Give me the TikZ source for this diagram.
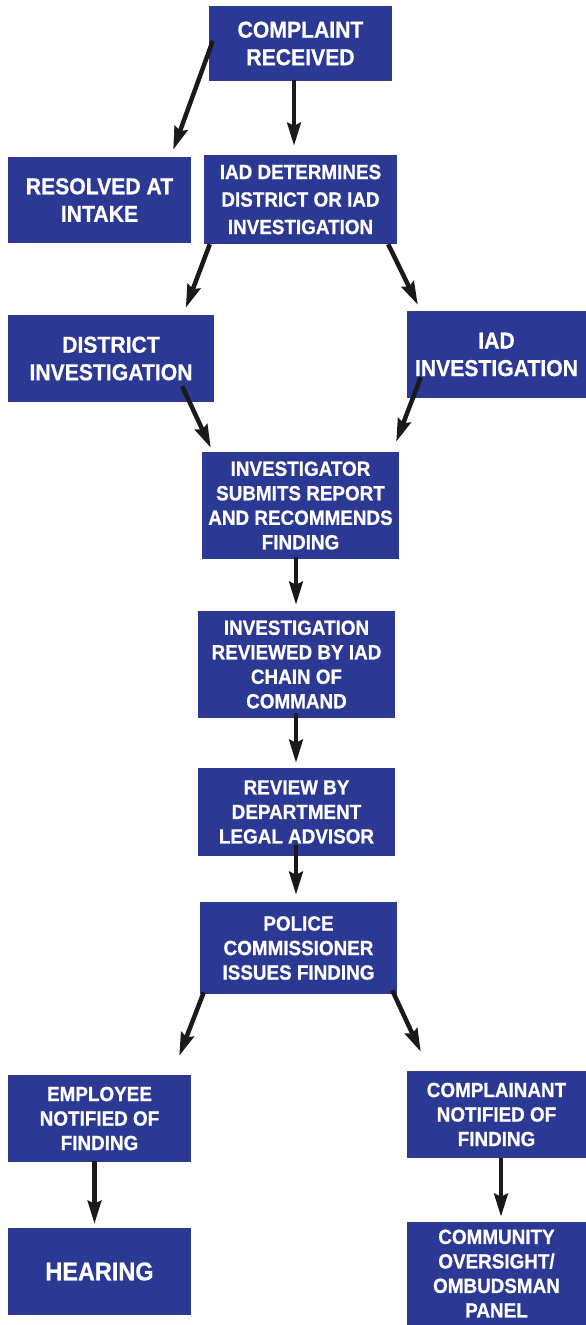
\documentclass[tikz,border=0pt]{standalone}
\usepackage{fontspec}
\setmainfont{Liberation Sans}[FakeStretch=0.92,BoldFeatures={FakeBold=0.8}]
\usetikzlibrary{arrows.meta}
\definecolor{boxblue}{RGB}{43,56,148}
\definecolor{arrowblack}{RGB}{26,26,26}
\begin{document}
\begin{tikzpicture}[x=1pt,y=-1pt,
  box/.style={fill=boxblue, draw=none, text=white, align=center, inner sep=0pt},
  big/.style={font=\fontsize{23}{27.5}\selectfont\bfseries},
  mid/.style={font=\fontsize{20.5}{24.5}\selectfont\bfseries},
  midwide/.style={font=\fontsize{20.5}{27.5}\selectfont\bfseries},
  huge/.style={font=\fontsize{25.5}{30}\selectfont\bfseries},
  arr/.style={draw=arrowblack, line width=4.5pt, -{Stealth[length=23pt,width=13.5pt,inset=3pt]}}]
\useasboundingbox (0,0) rectangle (586,1325);

\node[box,big,minimum width=183pt,minimum height=75pt] (complaint) at (300.5,43.5) {COMPLAINT\\RECEIVED};
\node[box,big,minimum width=183pt,minimum height=86pt] (resolved) at (99.5,200) {RESOLVED AT\\INTAKE};
\node[box,midwide,minimum width=193pt,minimum height=89pt] (iaddet) at (300.5,199.5) {IAD DETERMINES\\DISTRICT OR IAD\\INVESTIGATION};
\node[box,big,minimum width=206pt,minimum height=87pt] (district) at (111,358.5) {DISTRICT\\INVESTIGATION};
\node[box,big,minimum width=179pt,minimum height=87pt] (iadinv) at (496.5,354.5) {IAD\\INVESTIGATION};
\node[box,mid,minimum width=197pt,minimum height=107pt] (investigator) at (300.5,505.5) {INVESTIGATOR\\SUBMITS REPORT\\AND RECOMMENDS\\FINDING};
\node[box,mid,minimum width=197pt,minimum height=107pt] (reviewed) at (296.5,664.5) {INVESTIGATION\\REVIEWED BY IAD\\CHAIN OF\\COMMAND};
\node[box,mid,minimum width=197pt,minimum height=88pt] (legal) at (296.5,812) {REVIEW BY\\DEPARTMENT\\LEGAL ADVISOR};
\node[box,mid,minimum width=197pt,minimum height=92pt] (police) at (298.5,948) {POLICE\\COMMISSIONER\\ISSUES FINDING};
\node[box,mid,minimum width=183pt,minimum height=87pt] (employee) at (99.5,1118.5) {EMPLOYEE\\NOTIFIED OF\\FINDING};
\node[box,mid,minimum width=179pt,minimum height=87pt] (complainant) at (496.5,1114.5) {COMPLAINANT\\NOTIFIED OF\\FINDING};
\node[box,huge,minimum width=183pt,minimum height=87pt] (hearing) at (99.5,1271.5) {HEARING};
\node[box,mid,minimum width=179pt,minimum height=103pt] (community) at (496.5,1273.5) {COMMUNITY\\OVERSIGHT/\\OMBUDSMAN\\PANEL};

\draw[arr] ([shift={(4,35)}]complaint.north west) -- ([shift={(-18,-7)}]resolved.north east);
\draw[arr] ([shift={(-6.5,-1)}]complaint.south) -- ([shift={(-6.5,-9)}]iaddet.north);
\draw[arr] ([shift={(6,0)}]iaddet.south west) -- ([shift={(178,-7)}]district.north west);
\draw[arr] ([shift={(-9,0)}]iaddet.south east) -- ([shift={(11,-6)}]iadinv.north west);
\draw[arr] ([shift={(-32,-16)}]district.south east) -- ([shift={(9,-4)}]investigator.north west);
\draw[arr] ([shift={(14,-21)}]iadinv.south west) -- ([shift={(-3,-10)}]investigator.north east);
\draw[arr] ([shift={(-4.5,-2)}]investigator.south) -- ([shift={(-0.5,-6)}]reviewed.north);
\draw[arr] ([shift={(-0.5,-5)}]reviewed.south) -- ([shift={(-0.5,-5)}]legal.north);
\draw[arr] ([shift={(-0.5,-11)}]legal.south) -- ([shift={(-2.5,-7)}]police.north);
\draw[arr] ([shift={(4,-2)}]police.south west) -- ([shift={(-12,-19)}]employee.north east);
\draw[arr] ([shift={(-5,-4)}]police.south east) -- ([shift={(14,-19)}]complainant.north west);
\draw[arr] ([shift={(-5,-1)}]employee.south) -- ([shift={(-5,-4)}]hearing.north);
\draw[arr] ([shift={(4.5,0)}]complainant.south) -- ([shift={(4.5,-5)}]community.north);
\end{tikzpicture}
\end{document}
